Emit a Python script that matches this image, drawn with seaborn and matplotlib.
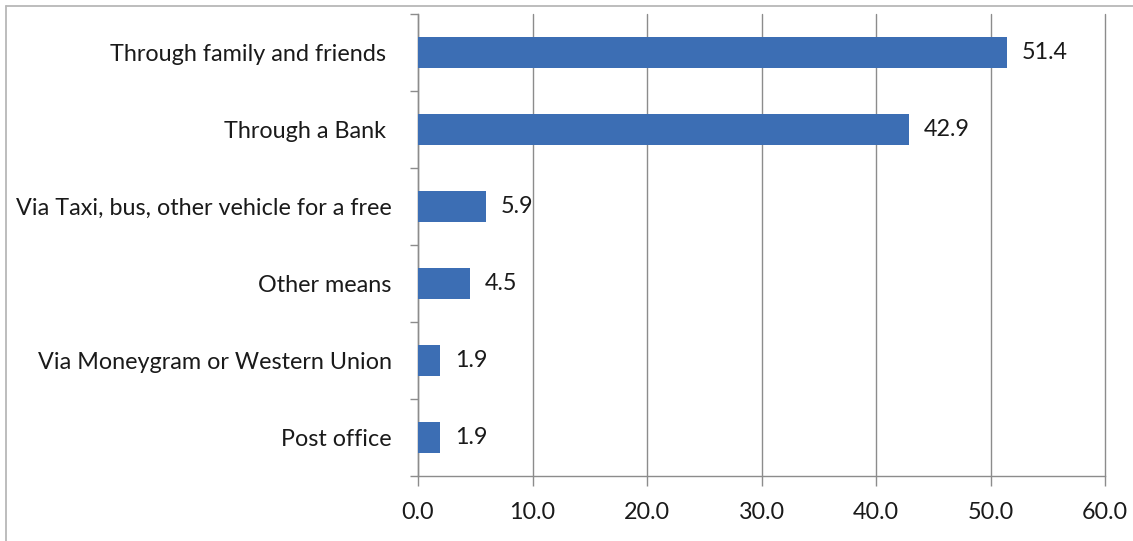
import matplotlib
matplotlib.use("Agg")
import matplotlib.pyplot as plt
import seaborn as sns
import pandas as pd
from matplotlib.lines import Line2D
from matplotlib.ticker import FixedLocator

categories = [
    "Through family and friends ",
    "Through a Bank ",
    "Via Taxi, bus, other vehicle for a free",
    "Other means",
    "Via Moneygram or Western Union",
    "Post office",
]
values = [51.4, 42.9, 5.9, 4.5, 1.9, 1.9]
x_ticks = [0, 10, 20, 30, 40, 50, 60]

df = pd.DataFrame({"channel": categories, "share": values})

sns.set_theme(style="white")
plt.rcParams["font.family"] = ["Lato", "DejaVu Sans"]

FS = 16.8
GRID = "#8c8c8c"
TEXT = "#1a1a1a"

W, H = 1133, 541
fig = plt.figure(figsize=(W / 100, H / 100), dpi=100)
ax = fig.add_axes([418 / W, 1 - 476 / H, (1105 - 418) / W, (476 - 14) / H])

sns.barplot(data=df, y="channel", x="share", orient="h", color="#3C6EB4",
            saturation=1, width=0.39, linewidth=0, ax=ax, zorder=3)

ax.set_xlim(0, 60)
ax.set_ylim(len(categories) - 0.5, -0.5)
ax.set_xticks(x_ticks)
ax.set_xticklabels([f"{v:.1f}" for v in x_ticks])
ax.xaxis.grid(True, color=GRID, linewidth=1.0, zorder=0)
for gl in ax.get_xgridlines():
    gl.set_clip_on(False)
ax.yaxis.grid(False)
ax.set_xlabel("")
ax.set_ylabel("")

for side in ["top", "right"]:
    ax.spines[side].set_visible(False)
for side in ["left", "bottom"]:
    ax.spines[side].set_color(GRID)
    ax.spines[side].set_linewidth(1.0)

# category labels sit between boundary ticks
ax.yaxis.set_minor_locator(FixedLocator([i - 0.5 for i in range(len(categories) + 1)]))
ax.tick_params(axis="y", which="major", length=0, pad=19, labelsize=FS, labelcolor=TEXT)
ax.tick_params(axis="y", which="minor", left=True, length=6, width=1.0, color=GRID)
ax.tick_params(axis="x", which="major", bottom=True, length=7, width=1.0, color=GRID,
               pad=12, labelsize=FS, labelcolor=TEXT)

for i, v in enumerate(values):
    ax.text(v + 1.3, i, f"{v:.1f}", va="center", ha="left", fontsize=FS, color=TEXT)

# chart area frame (top and left edges)
fig.add_artist(Line2D([6 / W, 1], [1 - 6 / H, 1 - 6 / H], transform=fig.transFigure,
                      color="#b8b8b8", linewidth=1.3))
fig.add_artist(Line2D([6 / W, 6 / W], [0, 1 - 6 / H], transform=fig.transFigure,
                      color="#b8b8b8", linewidth=1.3))

fig.savefig("out.png", dpi=100)
